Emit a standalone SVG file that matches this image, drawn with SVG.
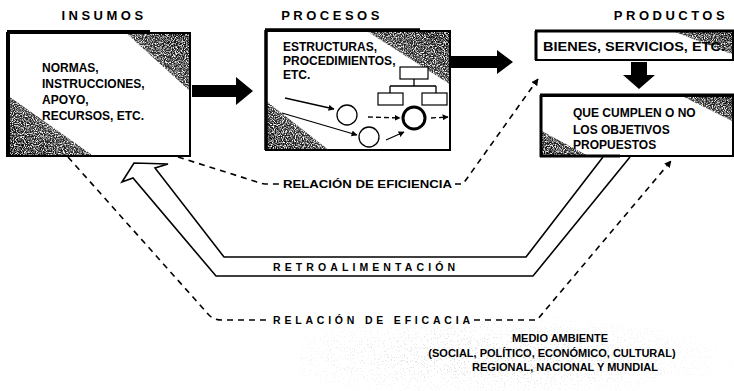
<svg xmlns="http://www.w3.org/2000/svg" width="734" height="391" viewBox="0 0 734 391">
<style>
text{font-family:"Liberation Sans",Arial,sans-serif;font-weight:bold;fill:#000}
.title{font-size:13px}
.box{font-size:12px}
.lab{font-size:10.5px}
.env{font-size:11px}
.frame{fill:#fff;stroke:#000;stroke-width:2}
.dash{fill:none;stroke:#000;stroke-width:1.6;stroke-dasharray:6 5}
.thin{fill:none;stroke:#000;stroke-width:1.3}
.org{fill:#fff;stroke:#000;stroke-width:1.2}
.fb{fill:none;stroke:#000;stroke-width:1.6;stroke-linejoin:miter}
</style>
<defs>
<marker id="ah" viewBox="0 0 10 10" refX="9" refY="5" markerWidth="7" markerHeight="7" orient="auto" markerUnits="userSpaceOnUse">
<path d="M0 0 L10 5 L0 10 z" fill="#000"/>
</marker>
<marker id="sa" viewBox="0 0 10 10" refX="9" refY="5" markerWidth="6" markerHeight="6" orient="auto" markerUnits="userSpaceOnUse">
<path d="M0 0 L10 5 L0 10 z" fill="#000"/>
</marker>
<filter id="grain" x="0" y="0" width="100%" height="100%">
<feTurbulence type="fractalNoise" baseFrequency="0.9" numOctaves="2" seed="3" result="n"/>
<feColorMatrix in="n" type="matrix" values="0 0 0 0 0  0 0 0 0 0  0 0 0 0 0  0 0 0 -3 2.2" result="a"/>
<feComposite in="SourceGraphic" in2="a" operator="in"/>
</filter>
<filter id="speck" x="0" y="0" width="100%" height="100%">
<feTurbulence type="fractalNoise" baseFrequency="1.3" numOctaves="1" seed="7" result="n"/>
<feColorMatrix in="n" type="matrix" values="0 0 0 0 0.55  0 0 0 0 0.55  0 0 0 0 0.55  0 0 0 -24 9" result="a"/>
<feComposite in="a" in2="SourceGraphic" operator="in"/>
</filter>
<linearGradient id="trg" x1="1" y1="0" x2="0" y2="1">
<stop offset="0" stop-color="#000"/><stop offset="0.45" stop-color="#000" stop-opacity="0.85"/><stop offset="1" stop-color="#000" stop-opacity="0"/>
</linearGradient>
<linearGradient id="blg" x1="0" y1="1" x2="1" y2="0">
<stop offset="0" stop-color="#000"/><stop offset="0.45" stop-color="#000" stop-opacity="0.85"/><stop offset="1" stop-color="#000" stop-opacity="0"/>
</linearGradient>
<radialGradient id="env" cx="0.45" cy="0.55" r="0.6">
<stop offset="0" stop-color="#fff" stop-opacity="0.7"/><stop offset="1" stop-color="#fff" stop-opacity="0"/>
</radialGradient>
</defs>
<rect width="734" height="391" fill="#fff"/>

<g id="medio-ambiente">
<rect x="300" y="315" width="434" height="76" fill="url(#env)" filter="url(#speck)"/>
<text class="env" x="560" y="342" text-anchor="middle">MEDIO AMBIENTE</text>
<text class="env" x="552" y="357" text-anchor="middle">(SOCIAL, POLÍTICO, ECONÓMICO, CULTURAL)</text>
<text class="env" x="565" y="371" text-anchor="middle">REGIONAL, NACIONAL Y MUNDIAL</text>
</g>

<g id="titles">
<text class="title" x="104" y="20" text-anchor="middle" letter-spacing="3.5">INSUMOS</text>
<text class="title" x="332" y="20" text-anchor="middle" letter-spacing="3.5">PROCESOS</text>
<text class="title" x="671" y="20" text-anchor="middle" letter-spacing="3.5">PRODUCTOS</text>
</g>

<g id="insumos">
<rect class="frame" x="8" y="33" width="182" height="123"/>
<path d="M125 32 L191 32 L191 92 z" fill="url(#trg)" filter="url(#grain)"/>
<path d="M7 95 L7 157 L95 157 z" fill="url(#blg)" filter="url(#grain)"/>
<path d="M7 32 H150 M8 32 V157" stroke="#000" stroke-width="4" fill="none"/>
<text class="box" x="42" y="72">NORMAS,</text>
<text class="box" x="42" y="88">INSTRUCCIONES,</text>
<text class="box" x="42" y="104">APOYO,</text>
<text class="box" x="42" y="120">RECURSOS, ETC.</text>
</g>

<g id="procesos">
<rect class="frame" x="266" y="31" width="184" height="119"/>
<path d="M365 30 L451 30 L451 85 z" fill="url(#trg)" filter="url(#grain)"/>
<path d="M265 100 L265 151 L330 151 z" fill="url(#blg)" filter="url(#grain)"/>
<path d="M265 30 H420 M266 30 V150" stroke="#000" stroke-width="3.5" fill="none"/>
<text class="box" x="283" y="51">ESTRUCTURAS,</text>
<text class="box" x="283" y="65">PROCEDIMIENTOS,</text>
<text class="box" x="283" y="79">ETC.</text>
<rect class="org" x="400" y="67" width="28" height="12"/>
<path d="M414 79 V86 M390 86 H436 M390 86 V93 M436 86 V93" class="thin"/>
<rect class="org" x="378" y="93" width="25" height="12"/>
<rect class="org" x="422" y="93" width="25" height="12"/>
<circle cx="347" cy="115" r="10" fill="none" stroke="#000" stroke-width="1.3"/>
<circle cx="369" cy="137" r="10" fill="none" stroke="#000" stroke-width="1.3"/>
<circle cx="414" cy="118" r="11" fill="none" stroke="#000" stroke-width="3"/>
<path d="M285 98 L334 109" class="thin" marker-end="url(#sa)"/>
<path d="M282 113 L357 135" class="thin" marker-end="url(#sa)"/>
<path d="M368 117 L400 118" class="thin" stroke-dasharray="5 3" marker-end="url(#sa)"/>
<path d="M386 140 L404 132" class="thin" marker-end="url(#sa)"/>
<path d="M431 118 L448 117" class="thin" stroke-dasharray="5 3" marker-end="url(#sa)"/>
</g>

<g id="bienes">
<rect class="frame" x="536" y="31" width="197" height="29"/>
<path d="M670 30 L734 30 L734 55 z" fill="url(#trg)" filter="url(#grain)"/>
<path d="M535 31 H734 M536 31 V60" stroke="#000" stroke-width="3" fill="none"/>
<text class="box" x="543" y="51" textLength="182" lengthAdjust="spacingAndGlyphs">BIENES, SERVICIOS, ETC.</text>
</g>

<g id="objetivos">
<rect class="frame" x="541" y="96" width="192" height="60"/>
<path d="M680 95 L734 95 L734 122 z" fill="url(#trg)" filter="url(#grain)"/>
<path d="M540 130 L540 157 L590 157 z" fill="url(#blg)" filter="url(#grain)"/>
<path d="M540 95 H734 M541 95 V157 M540 156 H620" stroke="#000" stroke-width="3" fill="none"/>
<text class="box" x="573" y="117">QUE CUMPLEN O NO</text>
<text class="box" x="573" y="134">LOS OBJETIVOS</text>
<text class="box" x="573" y="149">PROPUESTOS</text>
</g>

<g id="connectors">
<path d="M192 85 L236 85 L236 77 L253 91 L236 105 L236 97 L192 97 z" fill="#000"/>
<path d="M451 56 L497 56 L497 50 L513 62 L497 74 L497 68 L451 68 z" fill="#000"/>
<path d="M631 62 L647 62 L647 75 L655 75 L639 89 L623 75 L631 75 z" fill="#000"/>
<path class="dash" d="M178 157 L254 181 Q261 184 268 184 L280 184"/>
<path class="dash" d="M455 184 L463 184 L538 79" marker-end="url(#ah)"/>
<text class="lab" x="283" y="188" textLength="169" lengthAdjust="spacingAndGlyphs">RELACIÓN DE EFICIENCIA</text>
<path class="dash" d="M68 157 L208 314 Q213 320 222 320 L268 320"/>
<path class="dash" d="M474 320 L537 320 L671 161" marker-end="url(#ah)"/>
<text class="lab" x="273" y="324" textLength="197" lengthAdjust="spacing">RELACIÓN DE EFICACIA</text>
<path class="fb" d="M630 157 L533 276 L216 276 L133 178 L122 182 L134 163 L168 164 L155 168 L224 257 L526 257 L603 157"/>
<text class="lab" x="273" y="271" textLength="182" lengthAdjust="spacing">RETROALIMENTACIÓN</text>
</g>
</svg>
